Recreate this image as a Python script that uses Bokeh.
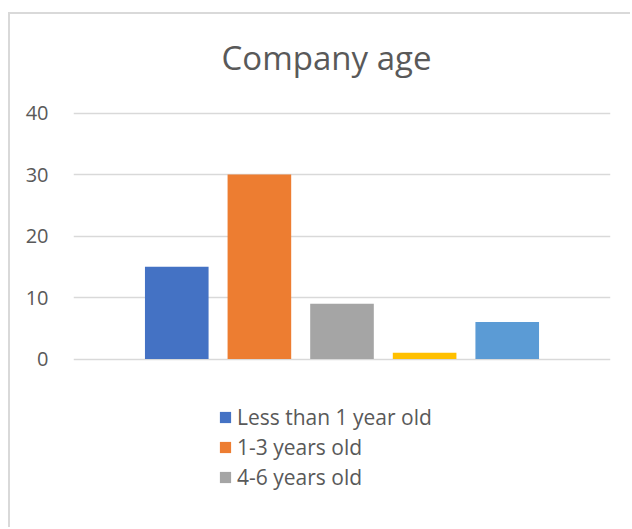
from bokeh.plotting import figure
from bokeh.models import Range1d, FixedTicker, Legend, LegendItem, ColumnDataSource, Label
from bokeh.embed import file_html
from bokeh.resources import INLINE

# ---- data ----
title_text = "Company age"
series_labels = ["Less than 1 year old", "1-3 years old", "4-6 years old"]  # legend entries visible
series_values = [15, 30, 9, 1, 6]
series_colors = ["#4472C4", "#ED7D31", "#A5A5A5", "#FFC000", "#5B9BD5"]
series_positions = [-2, -1, 0, 1, 2]
y_ticks = [0, 10, 20, 30, 40]

TEXT = "#595959"
GRID = "#D9D9D9"
FONT = "Open Sans"

# frame spans the full height so title and legend lie inside it
p = figure(width=622, height=515, output_backend="svg", toolbar_location=None,
           x_range=Range1d(-3.25, 3.25), y_range=Range1d(-22.68, 56.02),
           min_border_left=63, min_border_right=22, min_border_top=0,
           min_border_bottom=31)
p.styles = {"margin-left": "8px", "margin-top": "12px",
            "border-left": "2px solid #D9D9D9", "border-top": "2px solid #D9D9D9"}

p.outline_line_color = None
p.background_fill_color = "white"
p.border_fill_color = "white"

title = Label(text=title_text, x=253, y=441, x_units="screen", y_units="screen",
              text_align="center", text_baseline="alphabetic",
              text_font=FONT, text_font_size="33px", text_color=TEXT)
p.add_layout(title)

p.xaxis.visible = False
p.xgrid.visible = False
p.yaxis.ticker = FixedTicker(ticks=y_ticks)
p.yaxis.axis_line_color = None
p.yaxis.major_tick_line_color = None
p.yaxis.minor_tick_line_color = None
p.yaxis.major_label_text_font = FONT
p.yaxis.major_label_text_font_size = "20px"
p.yaxis.major_label_text_color = TEXT
p.yaxis.major_label_standoff = 19
p.ygrid.grid_line_color = GRID
p.ygrid.grid_line_width = 1.5

renderers = []
for i, v in enumerate(series_values):
    src = ColumnDataSource(dict(x=[series_positions[i]], top=[v]))
    r = p.vbar(x="x", top="top", bottom=0, width=0.77, source=src,
               fill_color=series_colors[i], line_color=None)
    renderers.append(r)

items = [LegendItem(label=lab, renderers=[renderers[i]]) for i, lab in enumerate(series_labels)]
legend = Legend(items=items, location=(145, 7), orientation="vertical",
                glyph_width=14, glyph_height=14, label_standoff=5,
                label_height=22, spacing=2, padding=0, margin=0,
                label_text_font=FONT, label_text_font_size="21px",
                label_text_color=TEXT, border_line_color=None,
                background_fill_alpha=0)
p.add_layout(legend, "center")

open("out.html", "w").write(file_html(p, INLINE))
